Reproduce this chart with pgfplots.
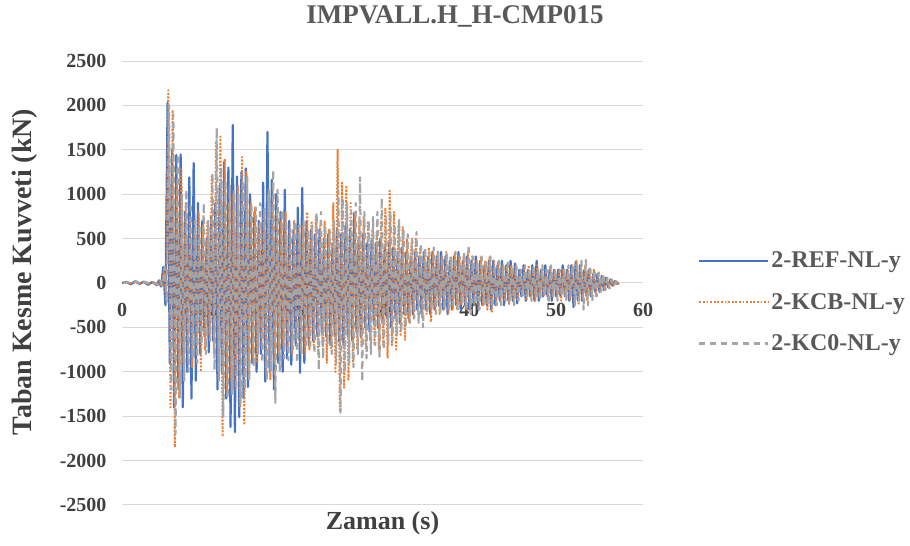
\documentclass[border=0pt]{standalone}
\usepackage{pgfplots}
\pgfplotsset{compat=1.18}
\usepackage{pgfplotstable}
\usepackage{fontspec}
\setmainfont{Liberation Serif}
\definecolor{refblue}{HTML}{4472C4}
\definecolor{kcborange}{HTML}{ED7D31}
\definecolor{kcgray}{HTML}{A5A5A5}
\definecolor{gridgray}{HTML}{D9D9D9}
\definecolor{txt}{HTML}{595959}
\definecolor{ticktxt}{HTML}{404040}

% t: time of REF sample, tB: time of KCB sample, tG: time of KC0 sample
\pgfplotstableread{
t R tB B tG G
0 0 0.08 0 0.16 0
0.5 12 0.58 10 0.66 8
1.0 -15 1.08 -12 1.16 -10
1.5 20 1.58 15 1.66 18
2.0 -10 2.08 -8 2.16 -12
2.5 15 2.58 12 2.66 14
3.0 -20 3.08 -18 3.16 -15
3.5 12 3.58 12 3.66 8
4.0 -25 4.08 -20 4.16 -22
4.25 30 4.33 25 4.41 28
4.5 -40 4.58 -30 4.66 -35
4.75 180 4.83 150 4.91 180
5.0 -250 5.08 -200 5.16 -220
5.25 2030 5.33 2170 5.41 2000
5.5 -900 5.58 -1400 5.66 -1200
5.75 1500 5.83 1950 5.91 1900
6.0 -1400 6.08 -1850 6.16 -1700
6.25 1440 6.33 1100 6.41 1450
6.5 -1200 6.58 -1300 6.66 -1300
6.75 1450 6.83 1300 6.91 1000
7.0 -1400 7.08 -900 7.16 -1100
7.25 800 7.33 900 7.41 1050
7.5 -1000 7.58 -800 7.66 -1000
7.75 1190 7.83 700 7.91 900
8.0 -1300 8.08 -950 8.16 -850
8.25 1350 8.33 600 8.41 700
8.5 -1100 8.58 -700 8.66 -900
8.75 900 8.83 800 8.91 650
9.0 -800 9.08 -1000 9.16 -700
9.25 700 9.33 650 9.41 900
9.5 -600 9.58 -750 9.66 -800
9.75 500 9.83 700 9.91 700
10.0 -780 10.08 -600 10.16 -650
10.25 750 10.33 1200 10.41 1240
10.5 -650 10.58 -800 10.66 -980
10.75 900 10.83 1600 10.91 1745
11.0 -1200 11.08 -1000 11.16 -1100
11.25 1100 11.33 1650 11.41 1300
11.5 -1000 11.58 -1730 11.66 -1500
11.75 1360 11.83 1400 11.91 1150
12.0 -1300 12.08 -1200 12.16 -1300
12.25 1300 12.33 900 12.41 1100
12.5 -1620 12.58 -1100 12.66 -1250
12.75 1780 12.83 1000 12.91 1050
13.0 -1680 13.08 -1200 13.16 -1200
13.25 1200 13.33 1100 13.41 1000
13.5 -1510 13.58 -1400 13.66 -1350
13.75 1250 13.83 1420 13.91 1150
14.0 -1300 14.08 -1600 14.16 -1200
14.25 1290 14.33 1250 14.41 1200
14.5 -1170 14.58 -1000 14.66 -1100
14.75 1000 14.83 900 14.91 900
15.0 -900 15.08 -850 15.16 -950
15.25 800 15.33 850 15.41 850
15.5 -1000 15.58 -900 15.66 -800
15.75 700 15.83 650 15.91 900
16.0 -800 16.08 -700 16.16 -900
16.25 1130 16.33 800 16.41 850
16.5 -1110 16.58 -1000 16.66 -1100
16.75 1700 16.83 1000 16.91 1050
17.0 -1000 17.08 -1090 17.16 -1000
17.25 1160 17.33 900 17.41 1270
17.5 -1200 17.58 -900 17.66 -1350
17.75 1000 17.83 750 17.91 1050
18.0 -900 18.08 -800 18.16 -1000
18.25 800 18.33 700 18.41 820
18.5 -1000 18.58 -700 18.66 -850
18.75 1050 18.83 800 18.91 700
19.0 -850 19.08 -750 19.16 -870
19.25 700 19.33 650 19.41 600
19.5 -920 19.58 -800 19.66 -750
19.75 600 19.83 700 19.91 700
20.0 -700 20.08 -650 20.16 -900
20.25 850 20.33 600 20.41 650
20.5 -1010 20.58 -700 20.66 -800
20.75 1070 20.83 650 20.91 700
21.0 -900 21.08 -800 21.16 -700
21.25 700 21.33 800 21.41 600
21.5 -700 21.58 -750 21.66 -750
21.75 600 21.83 700 21.91 650
22.0 -650 22.08 -700 22.16 -800
22.25 550 22.33 750 22.41 790
22.5 -600 22.58 -800 22.66 -980
22.75 600 22.83 650 22.91 800
23.0 -550 23.08 -700 23.16 -850
23.25 500 23.33 700 23.41 650
23.5 -600 23.58 -900 23.66 -700
23.75 550 23.83 600 23.91 600
24.0 -700 24.08 -750 24.16 -800
24.25 450 24.33 900 24.41 700
24.5 -600 24.58 -1000 24.66 -900
24.75 600 24.83 1500 24.91 1050
25.0 -650 25.08 -1450 25.16 -1460
25.25 550 25.33 1130 25.41 950
25.5 -700 25.58 -1180 25.66 -1000
25.75 650 25.83 1100 25.91 900
26.0 -600 26.08 -1100 26.16 -900
26.25 600 26.33 900 26.41 800
26.5 -650 26.58 -900 26.66 -950
26.75 790 26.83 800 26.91 900
27.0 -550 27.08 -750 27.16 -800
27.25 500 27.33 700 27.41 1190
27.5 -600 27.58 -700 27.66 -1110
27.75 550 27.83 750 27.91 800
28.0 -500 28.08 -750 28.16 -850
28.25 450 28.33 700 28.41 700
28.5 -550 28.58 -650 28.66 -800
28.75 500 28.83 600 28.91 750
29.0 -450 29.08 -700 29.16 -700
29.25 450 29.33 575 29.41 800
29.5 -500 29.58 -750 29.66 -830
29.75 500 29.83 700 29.91 955
30.0 -450 30.08 -700 30.16 -750
30.25 400 30.33 850 30.41 750
30.5 -400 30.58 -850 30.66 -700
30.75 450 30.83 1040 30.91 800
31.0 -500 31.08 -700 31.16 -650
31.25 400 31.33 800 31.41 650
31.5 -400 31.58 -750 31.66 -600
31.75 350 31.83 650 31.91 710
32.0 -450 32.08 -600 32.16 -550
32.25 400 32.33 630 32.41 600
32.5 -350 32.58 -640 32.66 -500
32.75 350 32.83 500 32.91 550
33.0 -400 33.08 -450 33.16 -450
33.25 300 33.33 450 33.41 500
33.5 -350 33.58 -400 33.66 -400
33.75 350 33.83 500 33.91 575
34.0 -300 34.08 -350 34.16 -450
34.25 300 34.33 400 34.41 450
34.5 -350 34.58 -400 34.66 -500
34.75 350 34.83 350 34.91 400
35.0 -300 35.08 -350 35.16 -350
35.25 300 35.33 400 35.41 350
35.5 -350 35.58 -440 35.66 -300
35.75 350 35.83 350 35.91 400
36.0 -300 36.08 -300 36.16 -350
36.25 300 36.33 350 36.41 350
36.5 -250 36.58 -350 36.66 -340
36.75 350 36.83 300 36.91 300
37.0 -300 37.08 -300 37.16 -300
37.25 300 37.33 350 37.41 350
37.5 -350 37.58 -350 37.66 -300
37.75 250 37.83 300 37.91 300
38.0 -300 38.08 -300 38.16 -250
38.25 300 38.33 350 38.41 350
38.5 -250 38.58 -300 38.66 -300
38.75 350 38.83 300 38.91 300
39.0 -300 39.08 -250 39.16 -250
39.25 250 39.33 300 39.41 350
39.5 -250 39.58 -300 39.66 -300
39.75 300 39.83 350 39.91 430
40.0 -300 40.08 -300 40.16 -350
40.25 250 40.33 300 40.41 300
40.5 -250 40.58 -250 40.66 -250
40.75 300 40.83 250 40.91 250
41.0 -300 41.08 -300 41.16 -300
41.25 250 41.33 300 41.41 300
41.5 -250 41.58 -250 41.66 -250
41.75 200 41.83 250 41.91 250
42.0 -250 42.08 -300 42.16 -250
42.25 250 42.33 300 42.41 300
42.5 -300 42.58 -340 42.66 -280
42.75 250 42.83 250 42.91 200
43.0 -250 43.08 -250 43.16 -250
43.25 200 43.33 250 43.41 250
43.5 -200 43.58 -200 43.66 -250
43.75 250 43.83 200 43.91 200
44.0 -250 44.08 -200 44.16 -200
44.25 200 44.33 200 44.41 250
44.5 -200 44.58 -250 44.66 -200
44.75 250 44.83 200 44.91 200
45.0 -200 45.08 -200 45.16 -250
45.25 220 45.33 180 45.41 200
45.5 -230 45.58 -200 45.66 -200
45.75 150 45.83 150 45.91 150
46.0 -150 46.08 -150 46.16 -150
46.25 200 46.33 150 46.41 200
46.5 -200 46.58 -200 46.66 -150
46.75 150 46.83 200 46.91 150
47.0 -150 47.08 -150 47.16 -200
47.25 200 47.33 150 47.41 200
47.5 -200 47.58 -200 47.66 -150
47.75 250 47.83 200 47.91 150
48.0 -200 48.08 -150 48.16 -200
48.25 150 48.33 150 48.41 200
48.5 -150 48.58 -150 48.66 -150
48.75 200 48.83 150 48.91 150
49.0 -150 49.08 -200 49.16 -200
49.25 150 49.33 200 49.41 200
49.5 -200 49.58 -150 49.66 -150
49.75 150 49.83 150 49.91 150
50.0 -150 50.08 -150 50.16 -200
50.25 150 50.33 150 50.41 150
50.5 -150 50.58 -200 50.66 -150
50.75 200 50.83 150 50.91 150
51.0 -150 51.08 -150 51.16 -200
51.25 150 51.33 150 51.41 200
51.5 -200 51.58 -200 51.66 -150
51.75 200 51.83 200 51.91 200
52.0 -270 52.08 -200 52.16 -250
52.25 240 52.33 250 52.41 200
52.5 -200 52.58 -250 52.66 -200
52.75 200 52.83 200 52.91 250
53.0 -200 53.08 -200 53.16 -300
53.25 150 53.33 200 53.41 260
53.5 -150 53.58 -200 53.66 -250
53.75 150 53.83 150 53.91 200
54.0 -150 54.08 -150 54.16 -200
54.25 100 54.33 150 54.41 150
54.5 -100 54.58 -150 54.66 -150
54.75 100 54.83 100 54.91 120
55.0 -100 55.08 -100 55.16 -100
55.25 80 55.33 80 55.41 100
55.5 -80 55.58 -80 55.66 -80
55.75 60 55.83 60 55.91 60
56.0 -50 56.08 -50 56.16 -60
56.25 40 56.33 30 56.41 40
56.5 -30 56.58 -30 56.66 -30
56.75 20 56.83 15 56.91 20
57.0 -10 57.08 -10 57.16 -10
57.25 0 57.33 0 57.41 0
}\datatable

\pgfplotsset{
  layers/labelsontop/.define layer set={axis background,axis grid,axis ticks,axis lines,pre main,main,axis tick labels,axis descriptions,axis foreground}{},
}

\begin{document}
\begin{tikzpicture}
\begin{axis}[
  set layers=labelsontop,
  scale only axis, width=521bp, height=444bp,
  xmin=0, xmax=60, ymin=-2500, ymax=2500,
  axis x line=middle, axis y line=left,
  axis line style={-},
  x axis line style={draw=gridgray, line width=1bp},
  y axis line style={draw=none},
  hide obscured x ticks=false, hide obscured y ticks=false,
  xtick={0,10,20,30,40,50,60}, xticklabels={0,10,20,30,40,50,60},
  ytick={-2500,-2000,-1500,-1000,-500,0,500,1000,1500,2000,2500},
  yticklabels={-2500,-2000,-1500,-1000,-500,0,500,1000,1500,2000,2500},
  major tick length=0pt,
  ymajorgrids, grid style={gridgray, line width=1bp},
  tick label style={font=\fontsize{20bp}{24bp}\selectfont\bfseries, text=ticktxt},
  xticklabel style={anchor=north, yshift=-17bp},
  yticklabel style={anchor=east, xshift=-12bp},
  clip=false,
  title={IMPVALL.H\_H-CMP015},
  every axis title/.style={at={(axis description cs:0.639,1.101)}, anchor=center, font=\fontsize{27bp}{32bp}\selectfont\bfseries, text=txt},
  xlabel={Zaman (s)},
  every axis x label/.style={at={(axis description cs:0.5,-0.04)}, anchor=center, font=\fontsize{26bp}{30bp}\selectfont\bfseries, text=ticktxt},
  ylabel={Taban Kesme Kuvveti (kN)},
  every axis y label/.style={at={(axis description cs:-0.186,0.525)}, anchor=center, rotate=90, font=\fontsize{28bp}{32bp}\selectfont\bfseries, text=ticktxt},
  legend style={at={(axis description cs:1.10,0.457)}, anchor=west, draw=none, fill=none,
    font=\fontsize{24bp}{28bp}\selectfont\bfseries, text=txt, row sep=20bp,
    /tikz/every even column/.append style={column sep=4bp}},
  legend cell align=left,
  legend image code/.code={\draw[#1] (0bp,0bp) -- (69bp,0bp);},
]
\addplot[refblue, line width=2.2bp, line join=round] table[x=t, y=R] {\datatable};
\addlegendentry{2-REF-NL-y}
\addplot[kcborange, line width=2bp, line join=round, dash pattern=on 1.8bp off 1.8bp] table[x=tB, y=B] {\datatable};
\addlegendentry{2-KCB-NL-y}
\addplot[kcgray, line width=2.2bp, line join=round, dash pattern=on 6bp off 5bp] table[x=tG, y=G] {\datatable};
\addlegendentry{2-KC0-NL-y}
\path (axis description cs:-0.2342,-0.09234) (axis description cs:1.5125,1.1374);
\end{axis}
\end{tikzpicture}
\end{document}
